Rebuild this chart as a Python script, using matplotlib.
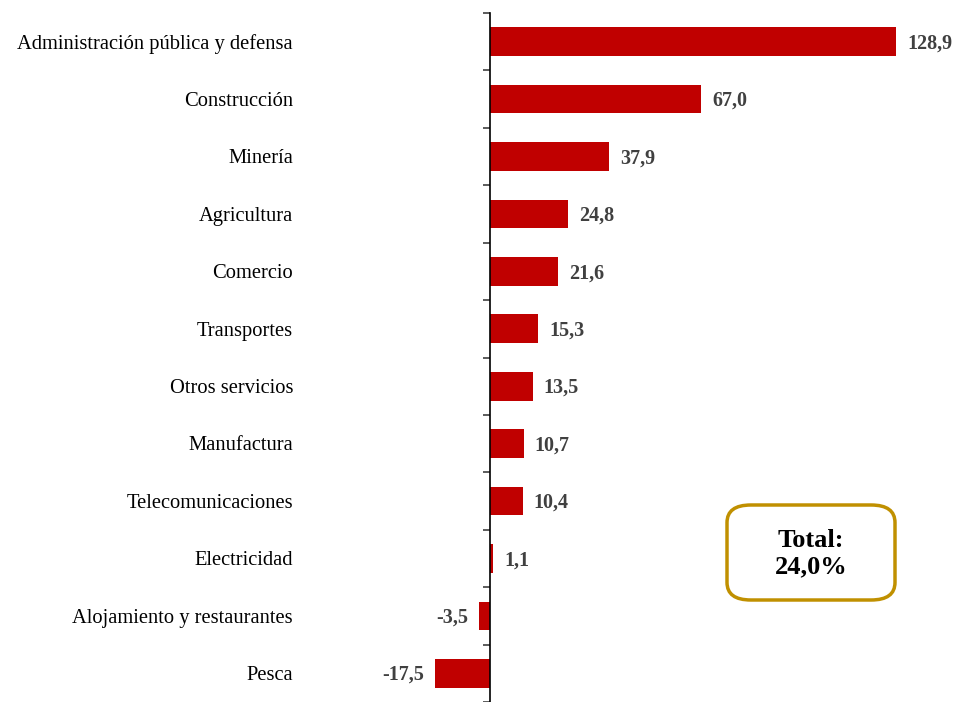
import numpy as np
import matplotlib.pyplot as plt
from matplotlib.patches import FancyBboxPatch

# data
sectores = ['Administración pública y defensa', 'Construcción', 'Minería', 'Agricultura',
            'Comercio', 'Transportes', 'Otros servicios', 'Manufactura',
            'Telecomunicaciones', 'Electricidad', 'Alojamiento y restaurantes', 'Pesca']
valores = [128.9, 67.0, 37.9, 24.8, 21.6, 15.3, 13.5, 10.7, 10.4, 1.1, -3.5, -17.5]
total_txt = 'Total:\n24,0%'

plt.rcParams['font.family'] = ['Liberation Serif', 'DejaVu Serif']

W, H = 955, 702
fig = plt.figure(figsize=(W / 100, H / 100), dpi=100)
top_px = 13
ax = fig.add_axes([0, 0, 1, (H - top_px) / H])

px_per_unit = 3.15
x0 = 490
ax.set_xlim(-x0 / px_per_unit, (W - x0) / px_per_unit)
row = 58
ax.set_ylim(-0.5 + (H - top_px) / row, -0.5)

y = np.arange(len(sectores))
ax.barh(y, valores, height=0.5, color='#C00000')

for yi, v in zip(y, valores):
    lab = f'{v:.1f}'.replace('.', ',')
    if v >= 0:
        ax.text(v + 11 / px_per_unit, yi + 0.03, lab, ha='left', va='center',
                fontsize=14.5, fontweight='bold', color='#404040')
    else:
        ax.text(v - 11 / px_per_unit, yi + 0.03, lab, ha='right', va='center',
                fontsize=14.5, fontweight='bold', color='#404040')
    ax.text((293 - x0) / px_per_unit, yi + 0.04, sectores[yi], ha='right', va='center',
            fontsize=14.8, color='black')

for s in ['top', 'right', 'bottom']:
    ax.spines[s].set_visible(False)
ax.spines['left'].set_position(('data', 0))
ax.spines['left'].set_linewidth(1.2)
ax.set_xticks([])
ax.set_yticks(np.arange(-0.5, len(sectores), 1))
ax.set_yticklabels([])
ax.tick_params(axis='y', direction='out', length=5, width=1.2, color='#404040')

# total box
bx, by, bw, bh = 727, 505, 168, 95
box = FancyBboxPatch((bx / W, 1 - (by + bh) / H), bw / W, bh / H,
                     boxstyle='round,pad=0,rounding_size=0.025',
                     transform=fig.transFigure, facecolor='white',
                     edgecolor='#C09000', linewidth=2.5)
fig.patches.append(box)
fig.text((bx + bw / 2) / W, 1 - (by + bh / 2) / H - 0.002, total_txt, ha='center', va='center',
         fontsize=19, fontweight='bold', linespacing=1.2)

fig.savefig('out.png', dpi=100)
